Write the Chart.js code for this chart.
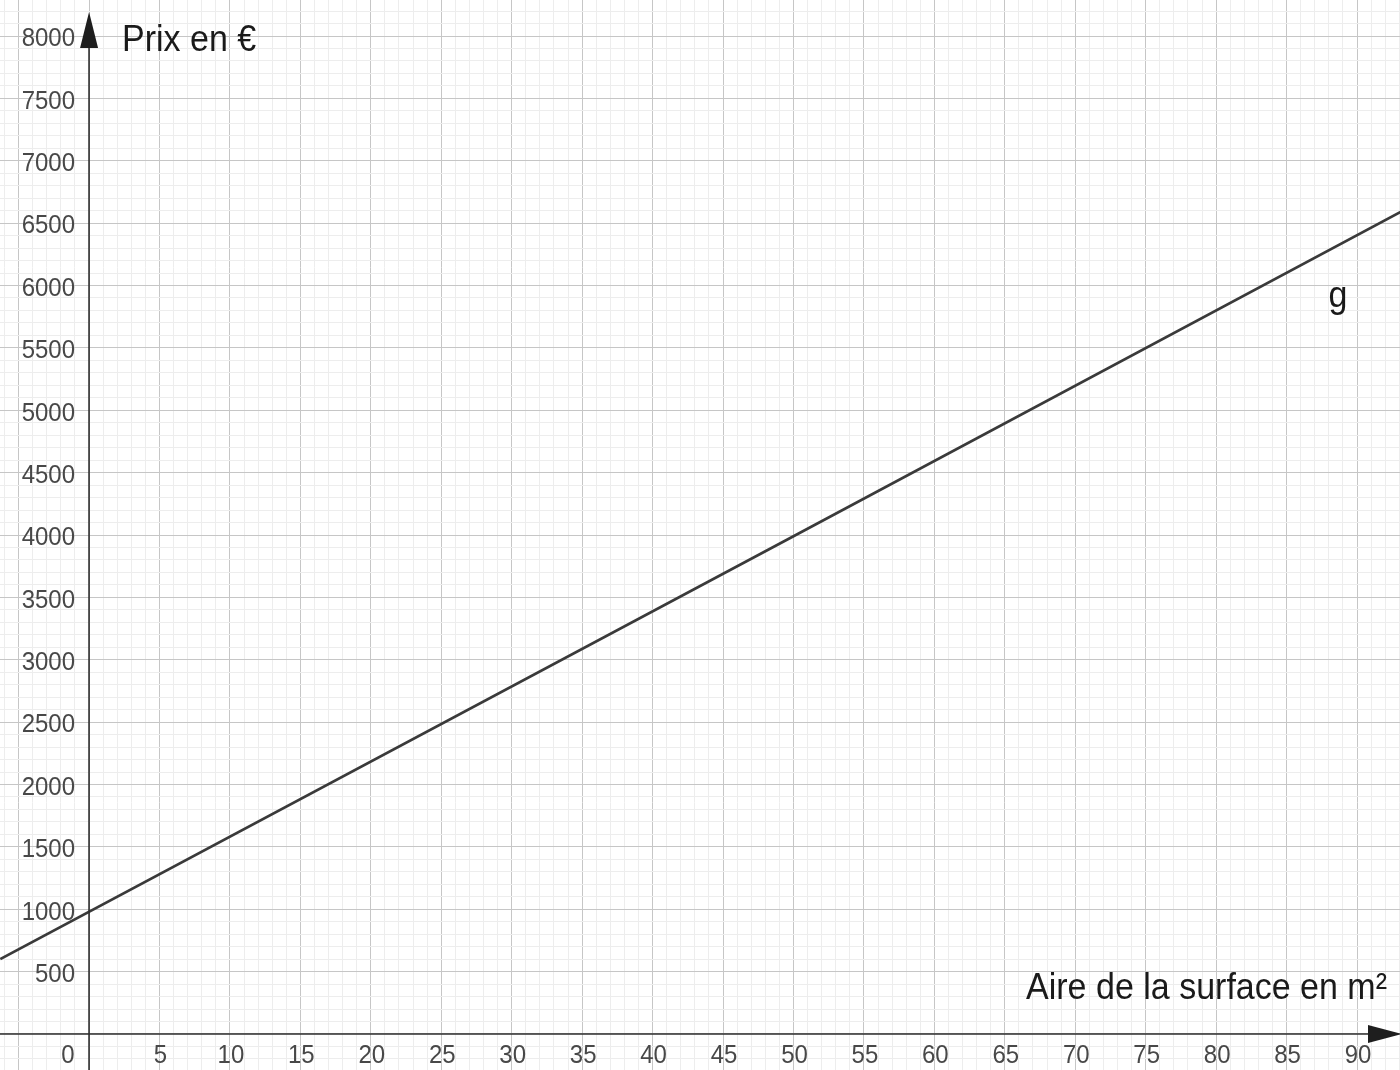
<!DOCTYPE html>
<html lang="fr">
<head>
  <meta charset="UTF-8">
  <title>Prix en fonction de l'aire</title>
  <script src="https://cdn.jsdelivr.net/npm/chart.js"></script>
  <style>
    body { margin: 0; background: #fff; }
    canvas { display: block; }
  </style>
</head>
<body>
<canvas id="graphe" width="1400" height="1070"></canvas>
<script>
// valeurs
const xTickLabels = [0, 5, 10, 15, 20, 25, 30, 35, 40, 45, 50, 55, 60, 65, 70, 75, 80, 85, 90];
const yTickLabels = [500, 1000, 1500, 2000, 2500, 3000, 3500, 4000, 4500, 5000, 5500, 6000, 6500, 7000, 7500, 8000];
// droite g (aire en m², prix en €)
const gAire = [-6.3, 50, 93.1];
const gPrix = [600, 3990, 6590];

const titreX = 'Aire de la surface en m²';
const titreY = 'Prix en €';
const nomCourbe = 'g';

const police = '"Liberation Sans", Arial, sans-serif';

function couleurGrille(ctx, pas) {
  const v = ctx.tick.value;
  if (Math.abs(v / pas - Math.round(v / pas)) < 1e-6) return 'rgb(198,198,198)';
  return 'rgb(237,237,237)';
}

// texte un peu étiré en hauteur, comme sur la capture
function texte(ctx, s, x, y, etire) {
  ctx.save();
  ctx.translate(x, y);
  ctx.scale(1, etire);
  ctx.fillText(s, 0, 0);
  ctx.restore();
}

// axes fléchés + graduations façon GeoGebra
const axesGeo = {
  id: 'axesGeo',
  afterDatasetsDraw(chart) {
    const ctx = chart.ctx;
    const sx = chart.scales.x, sy = chart.scales.y;
    const x0 = sx.getPixelForValue(0), y0 = sy.getPixelForValue(0);
    const W = chart.width;

    ctx.save();
    ctx.strokeStyle = '#2e2e2e';
    ctx.fillStyle = '#1e1e1e';
    ctx.lineWidth = 1.6;
    // axe y
    ctx.beginPath();
    ctx.moveTo(x0, chart.height);
    ctx.lineTo(x0, 30);
    ctx.stroke();
    ctx.beginPath();
    ctx.moveTo(x0, 12);
    ctx.lineTo(x0 - 9, 48);
    ctx.lineTo(x0 + 9, 48);
    ctx.closePath();
    ctx.fill();
    // axe x
    ctx.beginPath();
    ctx.moveTo(0, y0);
    ctx.lineTo(W - 20, y0);
    ctx.stroke();
    ctx.beginPath();
    ctx.moveTo(W + 2, y0);
    ctx.lineTo(W - 32, y0 - 9);
    ctx.lineTo(W - 32, y0 + 9);
    ctx.closePath();
    ctx.fill();

    // graduations
    ctx.fillStyle = '#484848';
    ctx.font = '24px ' + police;
    ctx.textAlign = 'center';
    ctx.textBaseline = 'middle';
    xTickLabels.forEach(v => {
      const px = v === 0 ? x0 - 21 : sx.getPixelForValue(v) + 1;
      texte(ctx, String(v), px, y0 + 22, 1.1);
    });
    ctx.textAlign = 'right';
    yTickLabels.forEach(v => {
      texte(ctx, String(v), x0 - 14, sy.getPixelForValue(v) + 3, 1.1);
    });

    // titres des axes
    ctx.fillStyle = '#1a1a1a';
    ctx.font = '34px ' + police;
    ctx.textAlign = 'left';
    texte(ctx, titreY, x0 + 33, sy.getPixelForValue(8000) + 5, 1.08);
    ctx.textAlign = 'right';
    texte(ctx, titreX, W - 13, y0 - 45, 1.08);

    // nom de la droite
    ctx.textAlign = 'center';
    texte(ctx, nomCourbe, sx.getPixelForValue(88.65), sy.getPixelForValue(5905), 1.08);
    ctx.restore();
  }
};

const config = {
  type: 'scatter',
  data: {
    datasets: [{
      label: nomCourbe,
      data: gAire.map((a, i) => ({ x: a, y: gPrix[i] })),
      showLine: true,
      borderColor: 'rgb(58,58,58)',
      borderWidth: 2.6,
      pointRadius: 0,
      fill: false
    }]
  },
  options: {
    responsive: false,
    animation: false,
    layout: { padding: 0 },
    plugins: { legend: { display: false }, tooltip: { enabled: false } },
    scales: {
      x: {
        type: 'linear',
        min: -6.32,
        max: 93.05,
        ticks: { display: false, stepSize: 1, includeBounds: false },
        grid: { color: c => couleurGrille(c, 5), lineWidth: 1, drawTicks: false },
        border: { display: false },
        afterFit: s => { s.height = 0; }
      },
      y: {
        type: 'linear',
        min: -288.6,
        max: 8288.6,
        ticks: { display: false, stepSize: 100, includeBounds: false },
        grid: { color: c => couleurGrille(c, 500), lineWidth: 1, drawTicks: false },
        border: { display: false },
        afterFit: s => { s.width = 0; }
      }
    }
  },
  plugins: [axesGeo]
};

new Chart(document.getElementById('graphe'), config);
</script>
</body>
</html>
